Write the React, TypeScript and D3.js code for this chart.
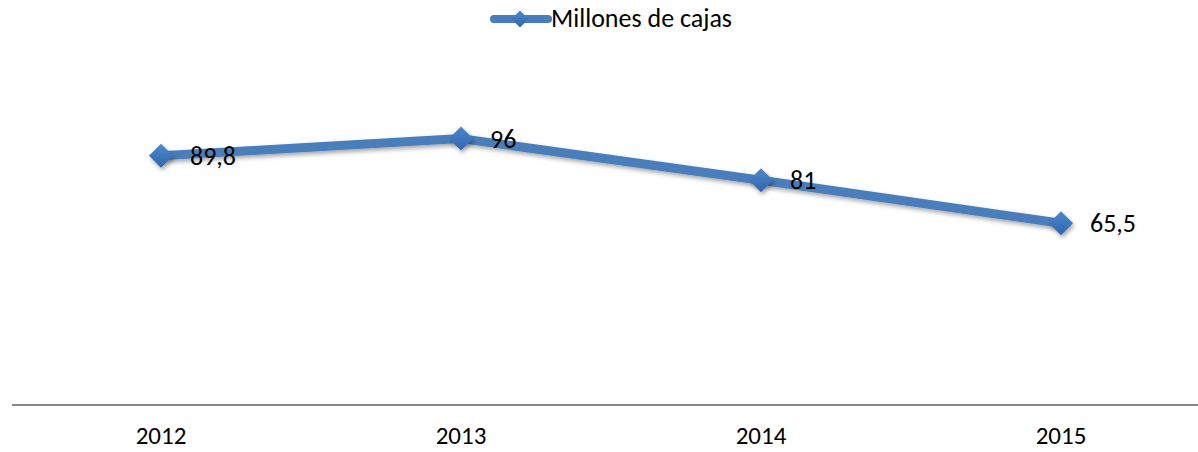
import React from "react";
import * as d3 from "d3";

const categories = ["2012", "2013", "2014", "2015"];
const values = [89.8, 96, 81, 65.5];
const valueLabels = ["89,8", "96", "81", "65,5"];
const seriesName = "Millones de cajas";

const W = 1198;
const H = 452;
const FONT = "Carlito, Calibri, 'Open Sans', sans-serif";

export default function App() {
  const x = d3.scaleBand<string>().domain(categories).range([11, 1211]);
  const y = d3.scaleLinear().domain([0, 120]).range([405, 72]);
  const cx = (c: string) => (x(c) as number) + x.bandwidth() / 2;
  const line = d3
    .line<number>()
    .x((_, i) => cx(categories[i]))
    .y((d) => y(d));
  const diamond = (s: number) => `M0,${-s} L${s},0 L0,${s} L${-s},0 Z`;

  return (
    <svg width={W} height={H} style={{ position: "absolute", left: 0, top: 0, background: "#fff" }}>
      <defs>
        <filter id="sh" x="-50%" y="-50%" width="200%" height="200%">
          <feDropShadow dx="1.5" dy="2.5" stdDeviation="2" floodColor="#000" floodOpacity="0.35" />
        </filter>
        <linearGradient id="mk" x1="0" y1="0" x2="0" y2="1">
          <stop offset="0" stopColor="#4f86cc" />
          <stop offset="1" stopColor="#2f66ad" />
        </linearGradient>
      </defs>
      {/* legend */}
      <g>
        <line x1={494} x2={548} y1={19} y2={19} stroke="#4a7ebb" strokeWidth={8} strokeLinecap="round" />
        <path d={diamond(8.5)} transform="translate(520,19)" fill="url(#mk)" />
        <text x={551} y={27} fontFamily={FONT} fontSize={26} fill="#000">
          {seriesName}
        </text>
      </g>
      {/* axis */}
      <line x1={12} x2={1198} y1={405} y2={405} stroke="#888" strokeWidth={2} />
      {categories.map((c) => (
        <text key={c} x={cx(c)} y={444} textAnchor="middle" fontFamily={FONT} fontSize={25} fill="#000">
          {c}
        </text>
      ))}
      {/* series */}
      <path d={line(values) || ""} fill="none" stroke="#4a7ebb" strokeWidth={9} strokeLinejoin="round" filter="url(#sh)" />
      {values.map((v, i) => (
        <path key={i} d={diamond(12)} transform={`translate(${cx(categories[i])},${y(v)})`} fill="url(#mk)" filter="url(#sh)" />
      ))}
      {values.map((v, i) => (
        <text key={"l" + i} x={cx(categories[i]) + 29} y={y(v) + 9} fontFamily={FONT} fontSize={26} fill="#000">
          {valueLabels[i]}
        </text>
      ))}
    </svg>
  );
}
